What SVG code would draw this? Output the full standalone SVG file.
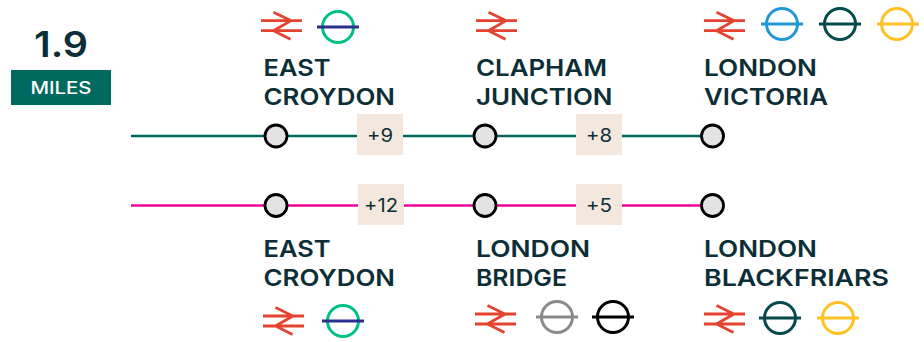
<svg xmlns="http://www.w3.org/2000/svg" xmlns:xlink="http://www.w3.org/1999/xlink" width="924" height="342" viewBox="0 0 924 342">
<style>
text{font-family:"Inter","Liberation Sans",sans-serif;fill:#0c2e36}
.n{font-size:23px;font-weight:600}
.b{font-size:18px;font-weight:400;text-anchor:middle}
.st{fill:#e3e3e3;stroke:#000;stroke-width:2.800}
.box{fill:#f3e7de}
.ring{fill:none;stroke-width:3}
.rail{fill:none;stroke:#e4432f;stroke-width:2.800}
</style>
<defs>
<g id="rail"><path class="rail" d="M0 0H41M0 10H41M12.500-8.500L30 0L12.500 10L29.500 18.500"/></g>
</defs>
<rect width="924" height="342" fill="#fff"/>
<g id="connectors">
<path d="M131 136H712" stroke="#00695f" stroke-width="2.500" fill="none"/>
<path d="M131 205.500H712" stroke="#f0009a" stroke-width="2.500" fill="none"/>
</g>
<g id="distance"><text x="34" y="57" font-size="36" font-weight="600" textLength="54" lengthAdjust="spacingAndGlyphs">1.9</text>
<rect x="11" y="70" width="100" height="35" fill="#00695f"/>
<text x="61" y="94" font-size="17" font-weight="500" text-anchor="middle" style="fill:#fff" textLength="61" lengthAdjust="spacingAndGlyphs">MILES</text></g>
<g id="t1"><use xlink:href="#rail" href="#rail" x="261" y="20.700"/><circle class="ring" cx="338" cy="27" r="15.500" stroke="#00c084"/><path d="M317 27H359" stroke="#2b2f8f" stroke-width="3"/>
<text class="n" x="263.500" y="76" textLength="67" lengthAdjust="spacingAndGlyphs">EAST</text><text class="n" x="263.500" y="105" textLength="131.500" lengthAdjust="spacingAndGlyphs">CROYDON</text></g>
<g id="t2"><use xlink:href="#rail" href="#rail" x="476" y="20.700"/>
<text class="n" x="476" y="76" textLength="131" lengthAdjust="spacingAndGlyphs">CLAPHAM</text><text class="n" x="476" y="105" textLength="136.500" lengthAdjust="spacingAndGlyphs">JUNCTION</text></g>
<g id="t3"><use xlink:href="#rail" href="#rail" x="704" y="20.700"/>
<circle class="ring" cx="782" cy="24" r="15.500" stroke="#2396d6"/><path d="M761 24H803" stroke="#2396d6" stroke-width="3"/>
<circle class="ring" cx="840" cy="24" r="15.500" stroke="#05494d"/><path d="M819 24H861" stroke="#05494d" stroke-width="3"/>
<circle class="ring" cx="897" cy="24" r="15.500" stroke="#ffc222"/><path d="M877 24H919" stroke="#ffc222" stroke-width="3"/>
<text class="n" x="704" y="76" textLength="113" lengthAdjust="spacingAndGlyphs">LONDON</text><text class="n" x="704" y="105" textLength="124" lengthAdjust="spacingAndGlyphs">VICTORIA</text></g>
<g id="s1"><circle class="st" cx="276" cy="136" r="11"/></g>
<g id="s2"><circle class="st" cx="485" cy="136" r="11"/></g>
<g id="s3"><circle class="st" cx="712.500" cy="136" r="11"/></g>
<g id="p1"><rect class="box" x="357" y="114" width="46" height="41"/><text class="b" x="380" y="142" textLength="26" lengthAdjust="spacingAndGlyphs">+9</text></g>
<g id="p2"><rect class="box" x="576" y="114" width="46" height="41"/><text class="b" x="599" y="142" textLength="26" lengthAdjust="spacingAndGlyphs">+8</text></g>
<g id="s4"><circle class="st" cx="276" cy="205.500" r="11"/></g>
<g id="s5"><circle class="st" cx="485" cy="205.500" r="11"/></g>
<g id="s6"><circle class="st" cx="712.500" cy="205.500" r="11"/></g>
<g id="p3"><rect class="box" x="358" y="184" width="46" height="41"/><text class="b" x="381" y="212" textLength="34" lengthAdjust="spacingAndGlyphs">+12</text></g>
<g id="p4"><rect class="box" x="576" y="184" width="46" height="41"/><text class="b" x="599" y="212" textLength="26" lengthAdjust="spacingAndGlyphs">+5</text></g>
<g id="b1"><text class="n" x="263.500" y="257" textLength="67" lengthAdjust="spacingAndGlyphs">EAST</text><text class="n" x="263.500" y="286" textLength="131.500" lengthAdjust="spacingAndGlyphs">CROYDON</text>
<use xlink:href="#rail" href="#rail" x="263" y="316"/><circle class="ring" cx="343" cy="321" r="15.500" stroke="#00c084"/><path d="M322 321H364" stroke="#2b2f8f" stroke-width="3"/></g>
<g id="b2"><text class="n" x="476" y="257" textLength="114" lengthAdjust="spacingAndGlyphs">LONDON</text><text class="n" x="476" y="286" textLength="91" lengthAdjust="spacingAndGlyphs">BRIDGE</text>
<use xlink:href="#rail" href="#rail" x="475" y="314"/><circle class="ring" cx="557" cy="317" r="15.500" stroke="#8a8a8c"/><path d="M536 317H578" stroke="#8a8a8c" stroke-width="3"/>
<circle class="ring" cx="613" cy="317" r="15.500" stroke="#000"/><path d="M592 317H634" stroke="#000" stroke-width="3"/></g>
<g id="b3"><text class="n" x="704" y="257" textLength="113" lengthAdjust="spacingAndGlyphs">LONDON</text><text class="n" x="704" y="286" textLength="185" lengthAdjust="spacingAndGlyphs">BLACKFRIARS</text>
<use xlink:href="#rail" href="#rail" x="704" y="314"/><circle class="ring" cx="780" cy="318" r="15.500" stroke="#05494d"/><path d="M759 318H801" stroke="#05494d" stroke-width="3"/>
<circle class="ring" cx="838" cy="318" r="15.500" stroke="#ffc222"/><path d="M817 318H859" stroke="#ffc222" stroke-width="3"/></g>
</svg>
